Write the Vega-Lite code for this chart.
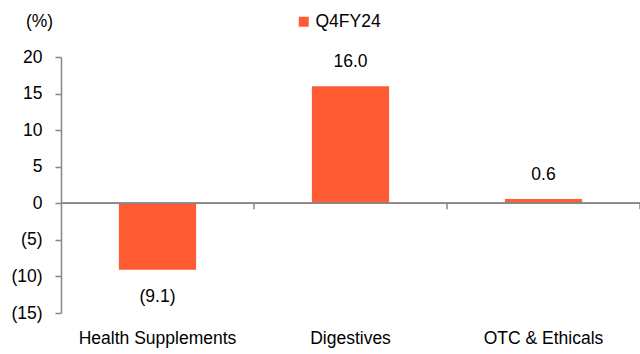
{
  "$schema": "https://vega.github.io/schema/vega-lite/v6.json",
  "autosize": "none",
  "width": 579,
  "height": 256,
  "padding": {"left": 61, "top": 57, "right": 0, "bottom": 41},
  "background": "white",
  "config": {
    "view": {"stroke": null},
    "font": "Liberation Sans",
    "text": {"font": "Liberation Sans", "fontSize": 17.5, "color": "#000000"},
    "axis": {"labelOverlap": false}
  },
  "data": {
    "values": [
      {"cat": "Health Supplements", "v": -9.1, "series": "Q4FY24"},
      {"cat": "Digestives", "v": 16.0, "series": "Q4FY24"},
      {"cat": "OTC & Ethicals", "v": 0.6, "series": "Q4FY24"}
    ]
  },
  "transform": [
    {"calculate": "datum.v < 0 ? '(' + format(-datum.v, '.1f') + ')' : format(datum.v, '.1f')", "as": "label"}
  ],
  "encoding": {
    "x": {
      "field": "cat",
      "type": "nominal",
      "sort": null,
      "scale": {"paddingInner": 0, "paddingOuter": 0},
      "axis": {
        "title": null,
        "orient": "bottom",
        "domain": false,
        "ticks": false,
        "labelAngle": 0,
        "labelOverlap": false,
        "labelFont": "Liberation Sans",
        "labelFontSize": 17.5,
        "labelColor": "#000000",
        "labelBaseline": "alphabetic",
        "labelPadding": 30
      }
    },
    "y": {
      "field": "v",
      "type": "quantitative",
      "scale": {"domain": [-15, 20], "nice": false, "zero": false},
      "axis": {
        "values": [-15, -10, -5, 0, 5, 10, 15, 20],
        "labelExpr": "datum.value < 0 ? '(' + (-datum.value) + ')' : '' + datum.value",
        "labelOverlap": false,
        "labelBound": false,
        "grid": false,
        "domainColor": "#868686",
        "domainWidth": 1.5,
        "tickColor": "#868686",
        "tickWidth": 1.5,
        "tickSize": 6,
        "labelPadding": 13,
        "labelFont": "Liberation Sans",
        "labelFontSize": 17.5,
        "labelColor": "#000000",
        "title": "(%)",
        "titleAngle": 0,
        "titleFont": "Liberation Sans",
        "titleFontSize": 17.5,
        "titleFontWeight": "normal",
        "titleColor": "#000000",
        "titleX": -22,
        "titleY": -36,
        "titleAlign": "center",
        "titleBaseline": "middle"
      }
    }
  },
  "layer": [
    {
      "mark": {"type": "bar", "width": {"band": 0.4}},
      "encoding": {
        "color": {
          "field": "series",
          "type": "nominal",
          "scale": {"range": ["#FF5C33"]},
          "legend": {
            "title": null,
            "orient": "none",
            "legendX": 234,
            "legendY": -44,
            "padding": 0,
            "symbolType": "square",
            "symbolSize": 100,
            "symbolStrokeWidth": 0,
            "labelFont": "Liberation Sans",
            "labelFontSize": 17.5,
            "labelColor": "#000000",
            "labelOffset": 3
          }
        }
      }
    },
    {
      "mark": {"type": "rule", "color": "#868686", "strokeWidth": 1.5},
      "encoding": {"x": null, "y": {"datum": 0}}
    },
    {
      "mark": {"type": "rule", "color": "#868686", "strokeWidth": 1.5},
      "encoding": {
        "x": {"field": "cat", "type": "nominal", "sort": null, "bandPosition": 1},
        "y": {"datum": 0},
        "y2": {"datum": -0.82}
      }
    },
    {
      "transform": [{"filter": "datum.v >= 0"}],
      "mark": {"type": "text", "dy": -24, "baseline": "middle"},
      "encoding": {
        "text": {"field": "label"}
      }
    },
    {
      "transform": [{"filter": "datum.v < 0"}],
      "mark": {"type": "text", "dy": 27, "baseline": "middle"},
      "encoding": {
        "text": {"field": "label"}
      }
    }
  ]
}
